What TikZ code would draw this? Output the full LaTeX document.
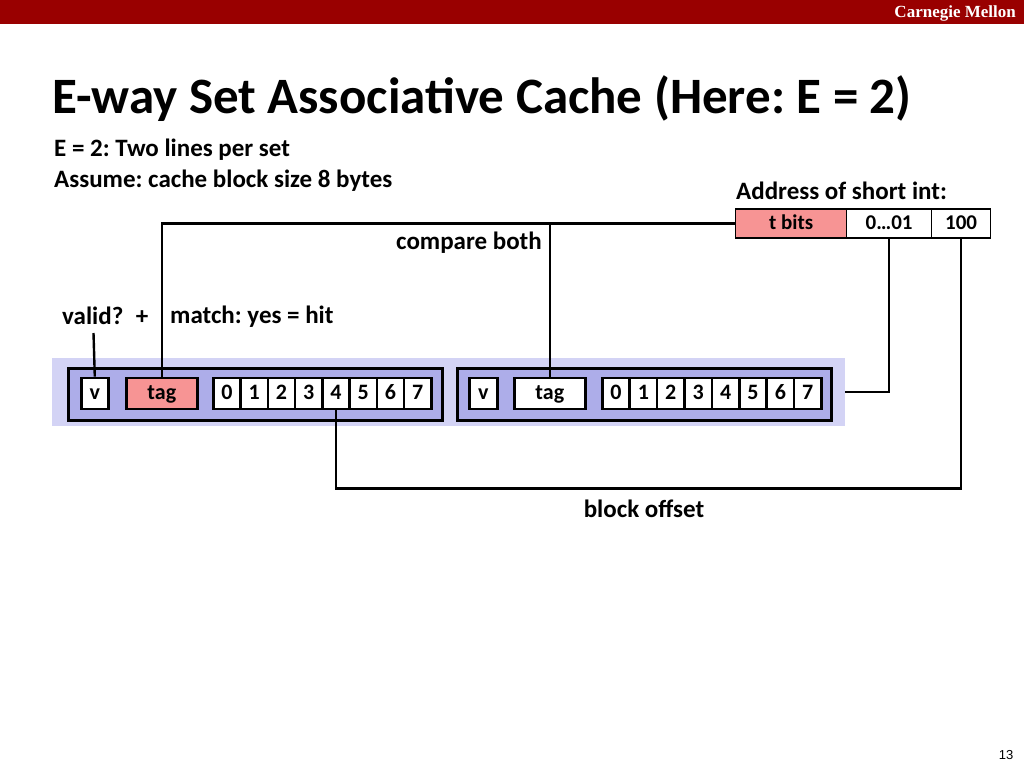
\documentclass[tikz,border=0pt]{standalone}
\usepackage{fontspec}
\setmainfont{Carlito}
\newfontfamily\cmufont{Liberation Serif}
\newfontfamily\arialfont{Liberation Sans}
\definecolor{cmured}{HTML}{990000}
\definecolor{setbg}{HTML}{D3D3F5}
\definecolor{linebg}{HTML}{ADADE9}
\definecolor{tagred}{HTML}{F79494}
\frenchspacing
\begin{document}
\frenchspacing
\begin{tikzpicture}[x=1pt,y=-1pt,
  cell/.style={draw, line width=2.6pt, fill=white, minimum height=31pt, inner sep=0pt, anchor=west, text height=14pt, text depth=2pt, font=\fontsize{22}{24}\selectfont\bfseries},
  abox/.style={draw, line width=1.2pt, fill=white, minimum height=29pt, inner sep=0pt, anchor=west, text height=13.5pt, text depth=2pt, font=\fontsize{21}{24}\selectfont\bfseries},
  wire/.style={line width=2.4pt},
  lbl/.style={font=\fontsize{25}{28}\selectfont\bfseries, inner sep=0pt},
  linebox/.style={draw, line width=3pt, fill=linebg, inner sep=0pt, anchor=north west, minimum width=374pt, minimum height=52pt}
]
\useasboundingbox (0,0) rectangle (1024,768);
\fill[cmured] (0,0) rectangle (1024,24);
\node[anchor=east, text=white, inner sep=0pt, font=\cmufont\bfseries\fontsize{17}{19}\selectfont] (cmu) at (1016,13) {Carnegie Mellon};
\node[anchor=base west, inner sep=0pt, font=\fontsize{51}{56}\selectfont\bfseries] (title) at (52,113) {E-way Set Associative Cache (Here: E = 2)};
\node[lbl, anchor=west] (l1) at (54,150) {E = 2: Two lines per set};
\node[lbl, anchor=west] (l2) at (54,181) {Assume: cache block size 8 bytes};
\node[lbl, anchor=west] (addr) at (736,191) {Address of short int:};

% address
\node[abox, fill=tagred, minimum width=111pt] (tbits) at (735,223.5) {t bits};
\node[abox, minimum width=85pt] (a01) at (846,223.5) {0\ldots01};
\node[abox, minimum width=59pt] (a100) at (931,223.5) {100};

% set background
\node[fill=setbg, inner sep=0pt, anchor=north west, minimum width=793pt, minimum height=68pt] (set) at (52,358) {};
\node[linebox] (line1) at (67,367) {};
\node[linebox, minimum width=374pt] (line2) at (456,367) {};

\node[cell, minimum width=27pt] (v1) at (80,393.5) {v};
\node[cell, fill=tagred, minimum width=71pt] (tag1) at (125,393.5) {tag};
\foreach \i in {0,...,7} {
  \node[cell, minimum width=27.25pt] (c1-\i) at ({212+\i*27.25},393.5) {\i};
}
\node[cell, minimum width=28pt] (v2) at (468,393.5) {v};
\node[cell, minimum width=71pt] (tag2) at (513,393.5) {tag};
\foreach \i in {0,...,7} {
  \node[cell, minimum width=27.4pt] (c2-\i) at ({601+\i*27.4},393.5) {\i};
}

% labels
\node[lbl, anchor=center] (cmp) at (469,243) {compare both};
\node[lbl, anchor=west] (valid) at (62,316) {valid?\enspace+};
\node[lbl, anchor=west] (match) at (170,317) {match: yes = hit};
\node[lbl, anchor=center] (boff) at (644,509) {block offset};
\node[anchor=center, inner sep=0pt, font=\arialfont\fontsize{13}{15}\selectfont] (pg) at (1006,755) {13};

% wires
\coordinate (vtop) at (93.5,333);
\draw[wire] (vtop) -- (v1.north);
\draw[wire] (tbits.west) -| (tag1.north);
\draw[wire] (tag2.north) -- (tag2.north |- tbits.west);
\draw[wire] (a01.south) |- (set.east);
\draw[wire] (a100.south) -- ++(0,250) -| (c1-4.south);
\end{tikzpicture}
\end{document}
